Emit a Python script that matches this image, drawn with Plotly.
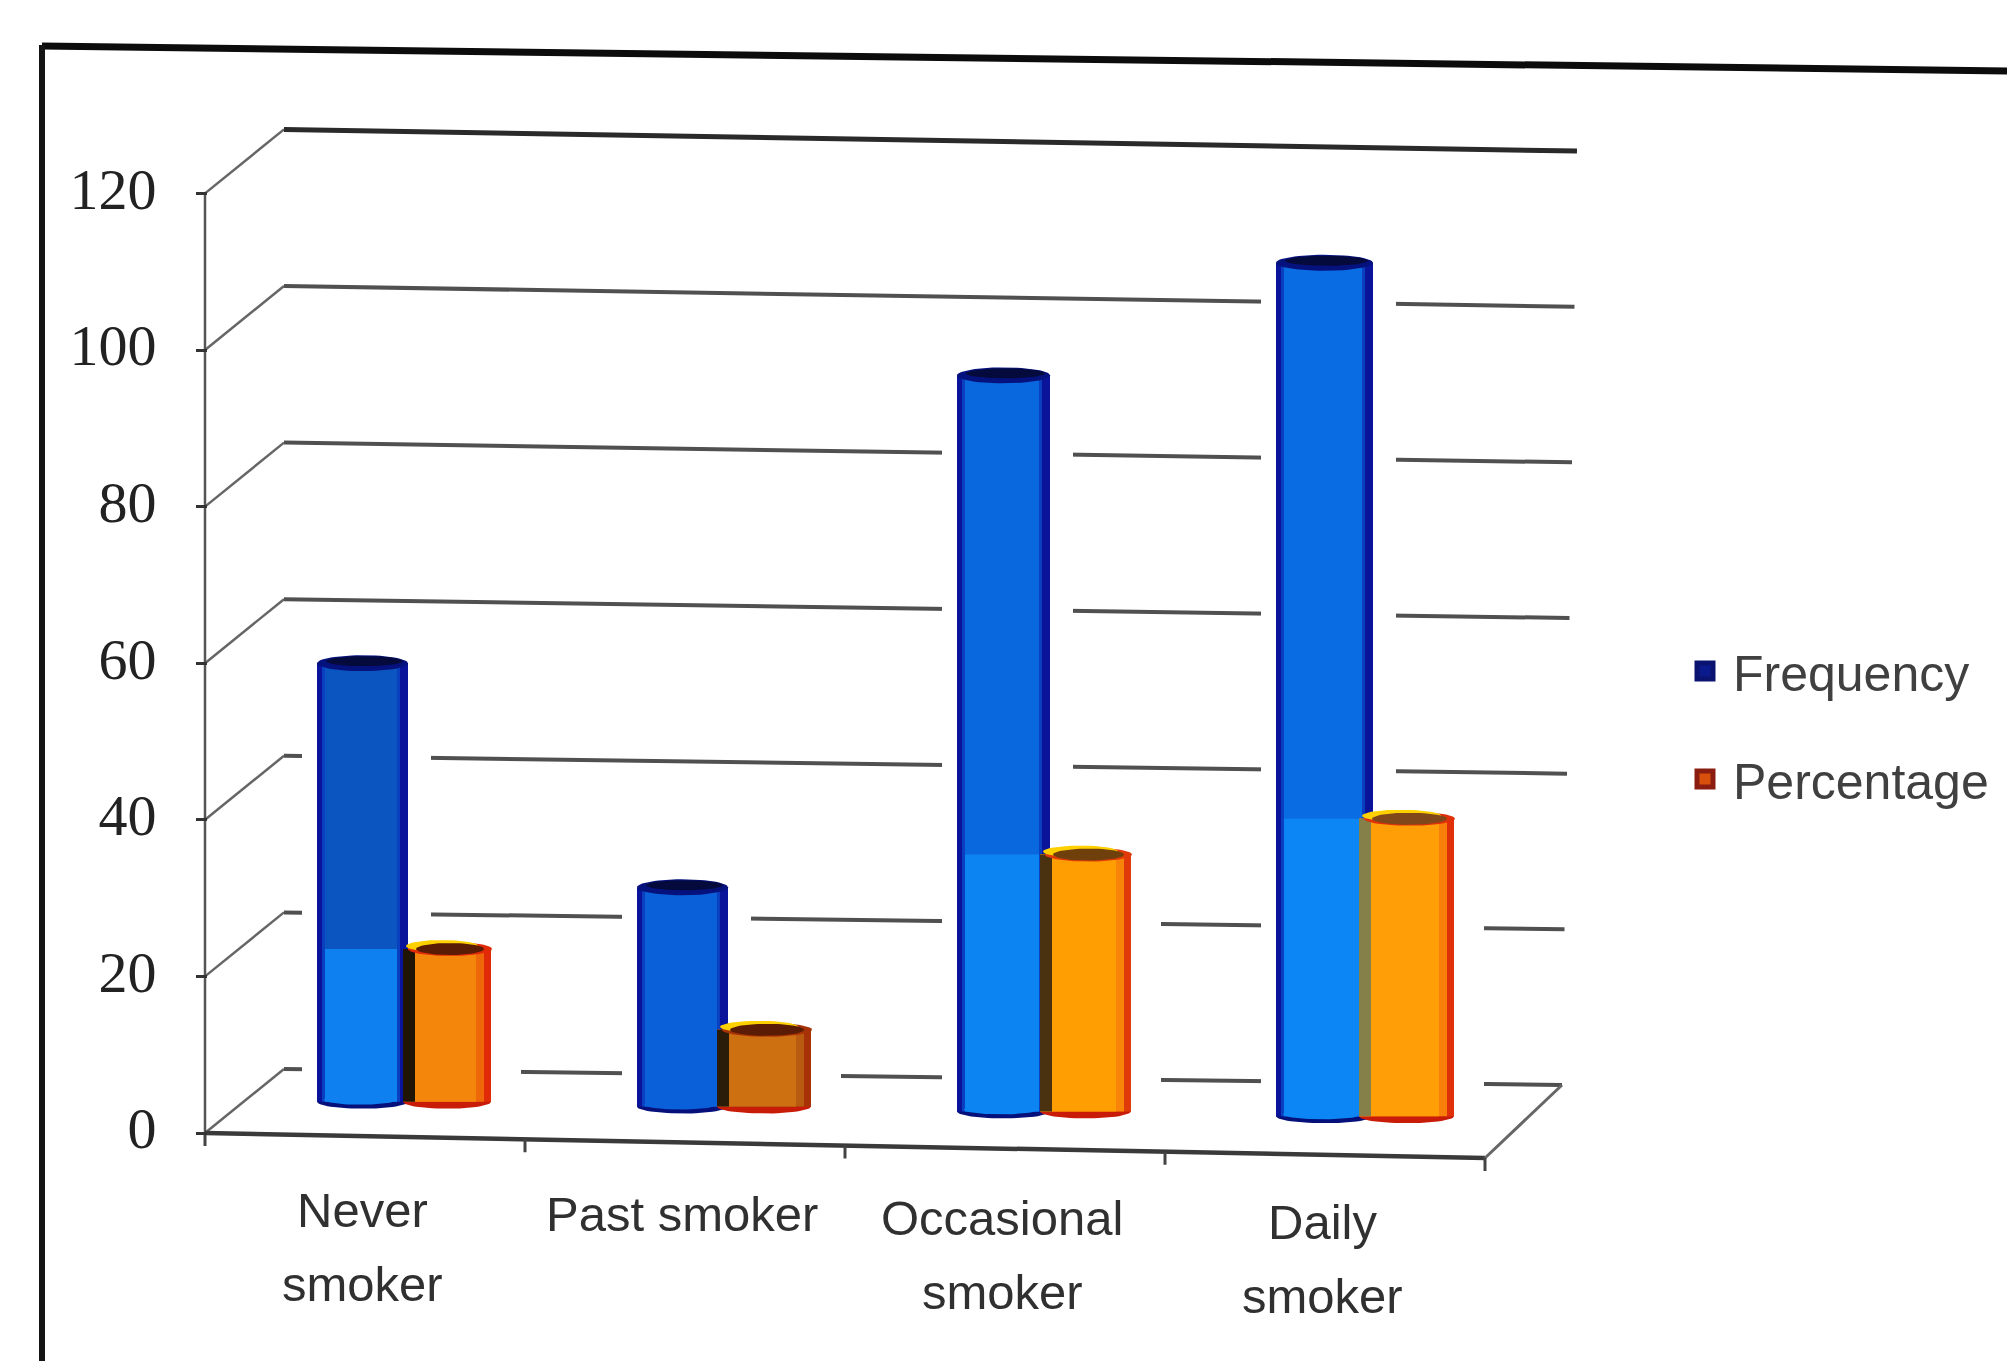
import numpy as np
import plotly.graph_objects as go

# Survey data
category_lines = [["Never", "smoker"], ["Past smoker"], ["Occasional", "smoker"], ["Daily", "smoker"]]
frequency = [56, 28, 94, 109]
percentage = [19.5, 9.8, 32.8, 38]
y_ticks = [0, 20, 40, 60, 80, 100, 120]

# Per-group shades for the cylinder bodies
blue_upper = ["#0b55c0", "#0a60d8", "#0a68de", "#0a6ce2"]
blue_lower = ["#0f80f0", "#0a60d8", "#0c84f2", "#0c86f4"]
orange_rim = ["#e02a08", "#a83208", "#e03a0a", "#e0300a"]
orange_mid = ["#ee680a", "#b85a10", "#f8840a", "#f8800a"]
orange_body = ["#f5860c", "#cc7012", "#ff9e02", "#ff9e06"]
orange_band = ["#201404", "#2a1c08", "#4a3210", "#85804a"]
orange_top = ["#5a1c04", "#5a1c04", "#70400c", "#80481a"]

W, H = 2007, 1361
CAT_PX, UNIT_PX = 320.0, 7.83      # pixels per category and per value unit
X0_PX, Y0_PX = 205.0, 1133.0       # origin of the front axis corner


def ux(px):
    """Horizontal pixel length to category units."""
    return np.asarray(px, float) / CAT_PX if np.ndim(px) else px / CAT_PX


def uy(px):
    """Vertical pixel length to value units."""
    return px / UNIT_PX


idx = np.arange(4)
x_range = [-0.5 - ux(X0_PX), -0.5 + ux(W - X0_PX)]
y_range = [-uy(H - Y0_PX), uy(Y0_PX)]
floor = 4.0 - 0.62 * (idx + 0.0)   # bars stand on the receding floor

fig = go.Figure()
shapes = []


def seg(x0, y0, x1, y1, width=3, color="#4a4a4a"):
    shapes.append(dict(type="line", xref="x", yref="y", x0=x0, y0=y0, x1=x1, y1=y1,
                       layer="below", line=dict(color=color, width=width)))


# Back wall gridlines with their diagonal links to the value axis
LEFT_X, LEFT_LIFT = -0.5 + ux(79), uy(64)
RIGHT_X, RIGHT_LIFT = -0.5 + ux(1357), uy(48)
for v in y_ticks:
    seg(-0.5, v, LEFT_X, v + LEFT_LIFT, width=2.5, color="#666666")
    seg(LEFT_X, v + LEFT_LIFT, RIGHT_X + ux(v / 120 * 15), v * 0.994 + RIGHT_LIFT,
        width=5 if v == 120 else 4, color="#2a2a2a" if v == 120 else "#505050")

# Value axis, floor edge and category ticks
seg(-0.5, 0, -0.5, 120, width=2.5, color="#555555")
FRONT_DROP = uy(25)
seg(-0.5, 0, 3.5, -FRONT_DROP, width=4.5, color="#3a3a3a")
seg(3.5, -FRONT_DROP, RIGHT_X, RIGHT_LIFT, width=3, color="#666666")
for k in range(5):
    drop = FRONT_DROP * k / 4
    seg(-0.5 + k, -drop, -0.5 + k, -drop - uy(13), width=3, color="#444444")


def bars(x_off, width, y, base, color, z):
    fig.add_trace(go.Bar(x=idx, y=y, base=base, offset=ux(x_off), width=ux(width),
                         marker=dict(color=color, line=dict(width=0)),
                         showlegend=False, hoverinfo="skip", zorder=z))


def ellipse(cx, cy, rx, ry, color, z):
    t = np.linspace(0, 2 * np.pi, 60)
    fig.add_trace(go.Scatter(x=cx + ux(rx) * np.cos(t), y=cy + uy(ry) * np.sin(t),
                             mode="lines", fill="toself", fillcolor=color,
                             line=dict(width=0), showlegend=False, hoverinfo="skip", zorder=z))


# Cylinder outlines per group, in pixels from the category centre; nearer groups read wider
BLUE_L = np.array([-48.0, -48.0, -48.0, -49.0])
BLUE_W = np.array([91.0, 91.0, 93.0, 97.0])
ORANGE_L = np.array([38.0, 32.0, 35.0, 34.0])
ORANGE_W = np.array([88.0, 94.0, 91.0, 95.0])
freq = np.array(frequency, float)
pct = np.array(percentage, float)

# White clearance that interrupts the gridlines around each cylinder
bars(BLUE_L - 15, BLUE_W + 38, freq, floor, "#ffffff", 1)
bars(ORANGE_L, ORANGE_W + 30, pct, floor, "#ffffff", 1)

# Frequency cylinders
bcx = idx + ux(BLUE_L + BLUE_W / 2)
for i in idx:
    ellipse(bcx[i], floor[i], BLUE_W[i] / 2, 7, "#06107a", 2)
    ellipse(bcx[i] - ux(2), floor[i] + uy(2), BLUE_W[i] / 2 - 9, 5, blue_lower[i], 4)
bars(BLUE_L, BLUE_W, freq, floor, "#0a149a", 3)
bars(BLUE_L + 5, BLUE_W - 13, freq, floor, "#0a40c0", 3)
bars(BLUE_L + 8, BLUE_W - 19, freq, floor, blue_upper, 3)
bars(BLUE_L + 8, BLUE_W - 19, pct, floor, blue_lower, 3)
for i in idx:
    top = floor[i] + freq[i]
    ellipse(bcx[i], top, BLUE_W[i] / 2, 8, "#05127e", 4)
    ellipse(bcx[i] + ux(2), top + uy(2), BLUE_W[i] / 2 - 7, 5, "#050a3c", 4)

# Percentage cylinders
ocx = idx + ux(ORANGE_L + ORANGE_W / 2)
for i in idx:
    ellipse(ocx[i], floor[i], ORANGE_W[i] / 2, 7, "#c81c08", 5)
bars(ORANGE_L, ORANGE_W, pct, floor, orange_rim, 6)
bars(ORANGE_L, ORANGE_W - 7, pct, floor, orange_mid, 6)
bars(ORANGE_L, ORANGE_W - 15, pct, floor, orange_body, 6)
bars(ORANGE_L, 12, pct, floor, orange_band, 6)
for i in idx:
    top = floor[i] + pct[i]
    ellipse(ocx[i] + ux(3), top, ORANGE_W[i] / 2 - 2, 7, orange_rim[i], 7)
    ellipse(ocx[i] - ux(5), top + uy(3), ORANGE_W[i] / 2 - 8, 6, "#ffd000", 7)
    ellipse(ocx[i] + ux(3), top, ORANGE_W[i] / 2 - 10, 6, orange_top[i], 7)

# Legend keys
for name, fill, edge, group in [("Frequency", "#0a1a8c", "#0a1470", "a"),
                                ("Percentage", "#d8500c", "#8a1c10", "b")]:
    fig.add_trace(go.Scatter(x=[None], y=[None], mode="markers", name=name, legendgroup=group,
                             marker=dict(symbol="square", size=16, color=fill,
                                         line=dict(color=edge, width=5))))

# Category labels, written line by line beneath the floor edge
annotations = []
for i, lines in enumerate(category_lines):
    for j, text in enumerate(lines):
        annotations.append(dict(
            x=i - ux(3), y=-uy(77 + 4 * i + j * 74), xref="x", yref="y",
            text=text, showarrow=False, xanchor="center", yanchor="middle",
            font=dict(family="Liberation Sans", size=49, color="#303030")))

# Panel border along the top and left
shapes += [
    dict(type="line", xref="paper", yref="paper", x0=42 / W, y0=1 - 46 / H, x1=1, y1=1 - 71 / H,
         line=dict(color="#0c0c0c", width=7)),
    dict(type="line", xref="paper", yref="paper", x0=42 / W, y0=1 - 45 / H, x1=42 / W, y1=0,
         line=dict(color="#141414", width=6)),
]

fig.update_layout(
    width=W, height=H, margin=dict(l=0, r=0, t=0, b=0, pad=0), autosize=False,
    paper_bgcolor="#ffffff", plot_bgcolor="#ffffff",
    barmode="overlay", showlegend=True, shapes=shapes, annotations=annotations,
    xaxis=dict(range=x_range, visible=False, fixedrange=True),
    yaxis=dict(range=y_range, anchor="free", position=(X0_PX + 2) / W, showgrid=False,
               zeroline=False, showline=False, tickmode="array", tickvals=y_ticks,
               ticks="outside", ticklen=11, tickwidth=3, tickcolor="#333333",
               ticklabelstandoff=28, ticklabelshift=-5, fixedrange=True,
               tickfont=dict(family="Liberation Serif", size=58, color="#222222")),
    legend=dict(x=1677 / W, y=1 - 632 / H, xanchor="left", yanchor="top",
                bgcolor="rgba(0,0,0,0)", tracegroupgap=40, itemwidth=46,
                traceorder="grouped",
                font=dict(family="Liberation Sans", size=50, color="#404040")),
)

fig.write_html("out.html", config={"displayModeBar": False})
